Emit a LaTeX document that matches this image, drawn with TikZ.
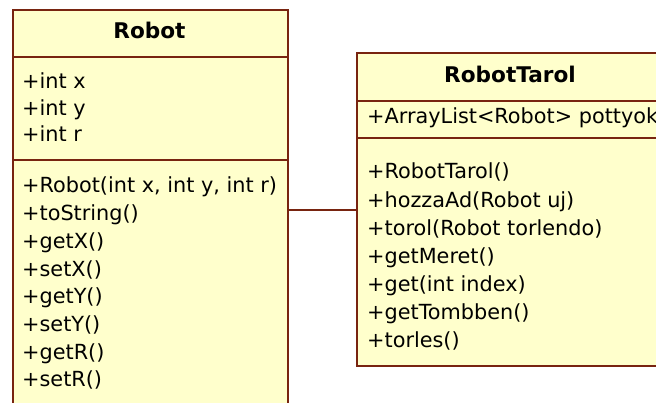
\documentclass[tikz,border=0pt]{standalone}
\usepackage{fontspec}
\setmainfont{DejaVu Sans}
\definecolor{umlfill}{RGB}{255,255,204}
\definecolor{umlline}{RGB}{120,36,16}
\begin{document}
\begin{tikzpicture}[x=1pt,y=-1pt,
  classbox/.style={draw=umlline,line width=1.7pt,fill=umlfill,rectangle,inner sep=0pt,anchor=north west},
  divider/.style={draw=umlline,line width=1.5pt},
  title/.style={font=\fontsize{21.6}{25}\selectfont\bfseries,inner sep=0pt,anchor=base},
  member/.style={font=\fontsize{20.8}{25}\selectfont,inner sep=0pt,anchor=base west},
  assoc/.style={draw=umlline,line width=1.5pt}]
\useasboundingbox (0,0) rectangle (656,403);
\clip (0,0) rectangle (656,403);
% Robot class
\node[classbox,minimum width=275pt,minimum height=420pt] (robot) at (12,9) {};
\coordinate (rd1) at (12,57);
\coordinate (rd2) at (12,160);
\draw[divider] (rd1) -- (rd1 -| robot.east);
\draw[divider] (rd2) -- (rd2 -| robot.east);
\node[title] (robottitle) at (149.5,39) {Robot};
\foreach \t [count=\i from 0] in {{+int x},{+int y},{+int r}}
  \node[member] (ra\i) at (22,89+26.5*\i) {\t};
\foreach \t [count=\i from 0] in {{+Robot(int x, int y, int r)},{+toString()},{+getX()},{+setX()},{+getY()},{+setY()},{+getR()},{+setR()}}
  \node[member] (ro\i) at (22,193+27.7*\i) {\t};
% RobotTarol class
\node[classbox,minimum width=308pt,minimum height=313pt] (tarol) at (356,52) {};
\coordinate (td1) at (356,101);
\coordinate (td2) at (356,138);
\draw[divider] (td1) -- (td1 -| tarol.east);
\draw[divider] (td2) -- (td2 -| tarol.east);
\node[title] (taroltitle) at (510,83) {RobotTarol};
\node[member] (ta0) at (367,124) {+ArrayList<Robot> pottyok};
\foreach \t [count=\i from 0] in {{+RobotTarol()},{+hozzaAd(Robot uj)},{+torol(Robot torlendo)},{+getMeret()},{+get(int index)},{+getTombben()},{+torles()}}
  \node[member] (to\i) at (367,179+28.1*\i) {\t};
% association
\coordinate (assocy) at (300,210);
\draw[assoc] (assocy -| robot.east) -- (assocy -| tarol.west);
\end{tikzpicture}
\end{document}
